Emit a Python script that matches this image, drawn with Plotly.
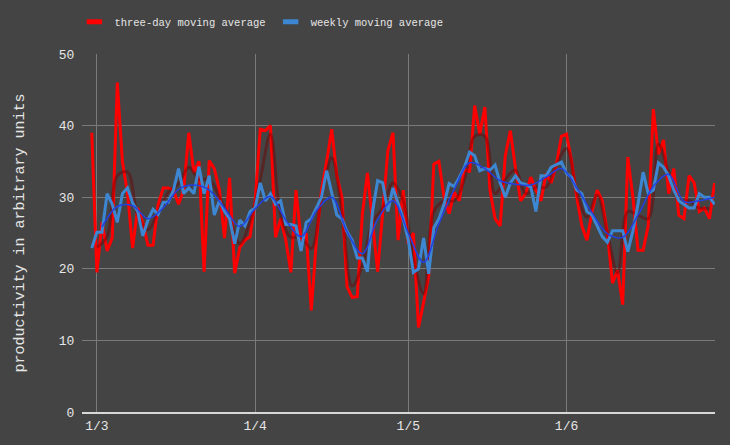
import pandas as pd
import plotly.graph_objects as go

# ---- data (daily, starting 2015-02-28) ----
start_date = "2015-02-28"
three_day = [39, 19.5, 26.5, 22.5, 24.3, 46, 35, 30.5, 22.9, 28.5,
             26.4, 23.3, 23.3, 29, 31.3, 31.3, 31, 29, 31, 39,
             33.5, 35, 19.6, 35.1, 34, 31, 24.3, 32.7, 19.4, 23,
             24, 24.5, 29.5, 39.5, 39.3, 40, 24.4, 27, 24, 19.5,
             31, 24, 25, 14.2, 24, 31, 35, 39.5, 33, 30,
             17.5, 16, 16.1, 27.6, 33.4, 26, 19.6, 28, 36.5, 39,
             24, 31, 23.5, 25, 11.8, 15.3, 19, 34.6, 35, 30,
             27.7, 30.7, 29.5, 34, 33.5, 42.8, 38.8, 42.6, 31, 27,
             26, 35.8, 39.3, 34, 29.5, 30.5, 32.8, 31, 29.5, 33.3,
             32, 34.5, 38.5, 38.8, 35, 30, 26, 24, 28, 31,
             29.5, 25, 18, 19.8, 15, 35.6, 30, 22.6, 22.6, 26,
             42.3, 36, 38, 30.5, 34, 27.5, 27, 33, 32, 28,
             28.5, 27, 32]
weekly = [22.9, 25.1, 25.1, 30.5, 29, 26.5, 30.5, 31.3, 29.2, 28,
          24.6, 26.8, 28.3, 27.6, 29.3, 29.3, 31, 34, 30.5, 31.3,
          30.5, 34.3, 30.5, 33, 27.5, 29.5, 28, 27, 23.5, 26.8,
          26, 28, 28.5, 32, 29.5, 30.5, 29, 29.5, 26.2, 26.2,
          26, 22.5, 26.5, 27, 28.5, 30, 33.7, 30.5, 27.5, 27,
          25.2, 24, 21.5, 21.5, 19.6, 28, 32.3, 32, 28, 31.3,
          29, 27, 24, 19.5, 20, 24.3, 19.3, 25.7, 27, 29,
          31.9, 31.5, 32.8, 34.2, 36.3, 35.8, 33.7, 34, 33.8, 34.5,
          32, 30, 32, 33, 32, 31.8, 31.4, 28, 33, 33,
          34.2, 34.5, 34.9, 33.3, 32.8, 31, 30.5, 28, 27.5, 26,
          24.5, 23.7, 25.3, 25.3, 25.3, 22.4, 25.3, 29, 33.5, 30.5,
          31, 34.8, 34.2, 33, 31, 29.5, 29, 28.5, 28.5, 30.5,
          30, 30, 29]

# smoothed companions (read every 2 / 3 days)
red_smooth_start = "2015-03-01"
red_smooth = [23, 24.5, 33, 33.5, 27.5, 25.5, 28, 30.7, 31.9, 34.2,
              32.5, 32.5, 30, 27, 23.5, 26.5, 32.5, 38.8, 27.5, 24.4,
              24.5, 22.8, 30, 35.5, 28, 17.6, 20.5, 26.5, 28.5, 32,
              29.5, 21.5, 16.5, 28, 29.5, 29.5, 32.5, 38.5, 38.5, 30.5,
              32.5, 33.8, 30.5, 31.4, 31.4, 34.5, 36.8, 30.8, 27.2, 30.3,
              25, 19.4, 28, 27.5, 27, 37.4, 33.5, 29.5, 29.5, 28.5,
              28.5]
blue_smooth_start = "2015-03-02"
blue_smooth = [25.8, 28.7, 28.8, 27, 28.5, 31.1, 31.7, 31, 28.5, 25.9,
               28.4, 30.1, 26.8, 24.5, 28.1, 30, 25.2, 22.1, 26.9, 29.5,
               25, 20.9, 26.3, 31.1, 34.8, 34, 32.3, 31.8, 31.7, 32.8,
               34, 31.3, 27.8, 24.9, 24.4, 27.5, 31.5, 33.2, 29.4, 29.5,
               30]

tick_dates = ["2015-03-01", "2015-04-01", "2015-05-01", "2015-06-01"]
tick_labels = ["1/3", "1/4", "1/5", "1/6"]
y_ticks = [0, 10, 20, 30, 40, 50]

dates = pd.date_range(start_date, periods=len(three_day), freq="D")
dates_w = pd.date_range(start_date, periods=len(weekly), freq="D")
dates_rs = pd.date_range(red_smooth_start, periods=len(red_smooth), freq="2D")
dates_bs = pd.date_range(blue_smooth_start, periods=len(blue_smooth), freq="3D")

FONT = "Liberation Mono, Courier New, monospace"
TXT = "#e6e6e6"
RED = "#ff0000"
BLUE = "#3d87d2"
BG = "#444444"

fig = go.Figure()
fig.add_trace(go.Scatter(x=dates, y=three_day, mode="lines",
                         line=dict(color=RED, width=3), showlegend=False,
                         name="three-day moving average"))
fig.add_trace(go.Scatter(x=dates_rs, y=red_smooth, mode="lines",
                         line=dict(color="rgba(110,0,0,0.45)", width=3, shape="spline"),
                         showlegend=False))
fig.add_trace(go.Scatter(x=dates_w, y=weekly, mode="lines",
                         line=dict(color=BLUE, width=3), showlegend=False,
                         name="weekly moving average"))
fig.add_trace(go.Scatter(x=dates_bs, y=blue_smooth, mode="lines",
                         line=dict(color="#2340e0", width=1.5, shape="spline"),
                         showlegend=False))
# legend entries
for nm, col in [("three-day moving average", RED), ("weekly moving average", BLUE)]:
    fig.add_trace(go.Scatter(x=[None], y=[None], mode="markers", name=nm,
                             marker=dict(symbol="line-ew", size=11,
                                         line=dict(color=col, width=5))))

fig.update_layout(
    width=730, height=445,
    paper_bgcolor=BG, plot_bgcolor=BG,
    margin=dict(l=82, r=15, t=54, b=33, autoexpand=False),
    font=dict(family=FONT, color=TXT, size=13),
    legend=dict(orientation="h", x=-0.012, xanchor="left", y=1.09, yanchor="middle",
                font=dict(size=10.5, color=TXT), bgcolor="rgba(0,0,0,0)",
                itemwidth=30, tracegroupgap=0),
    showlegend=True,
)
fig.update_xaxes(
    type="date", range=["2015-02-26 02:00", "2015-06-30 02:00"],
    tickvals=tick_dates, ticktext=tick_labels, automargin=False,
    showgrid=True, gridcolor="#7a7a7a", gridwidth=1,
    showline=True, linecolor="#d8d8d8", linewidth=2,
    zeroline=False, ticks="", tickfont=dict(size=13, color=TXT),
)
fig.update_yaxes(
    range=[0, 50], tickvals=y_ticks, automargin=False,
    showgrid=True, gridcolor="#7a7a7a", gridwidth=1,
    zeroline=False, ticks="outside", ticklen=4, tickcolor="rgba(0,0,0,0)",
    tickfont=dict(size=13, color=TXT),
    title=dict(text="productivity in arbitrary units", font=dict(size=15, color=TXT), standoff=30),
)
post = ("document.documentElement.style.margin='0';"
        "document.body.style.margin='0';"
        "document.documentElement.style.background='" + BG + "';"
        "document.body.style.background='" + BG + "';"
        "document.body.style.overflow='hidden';")
fig.write_html("out.html", post_script=post, config={"displayModeBar": False})
